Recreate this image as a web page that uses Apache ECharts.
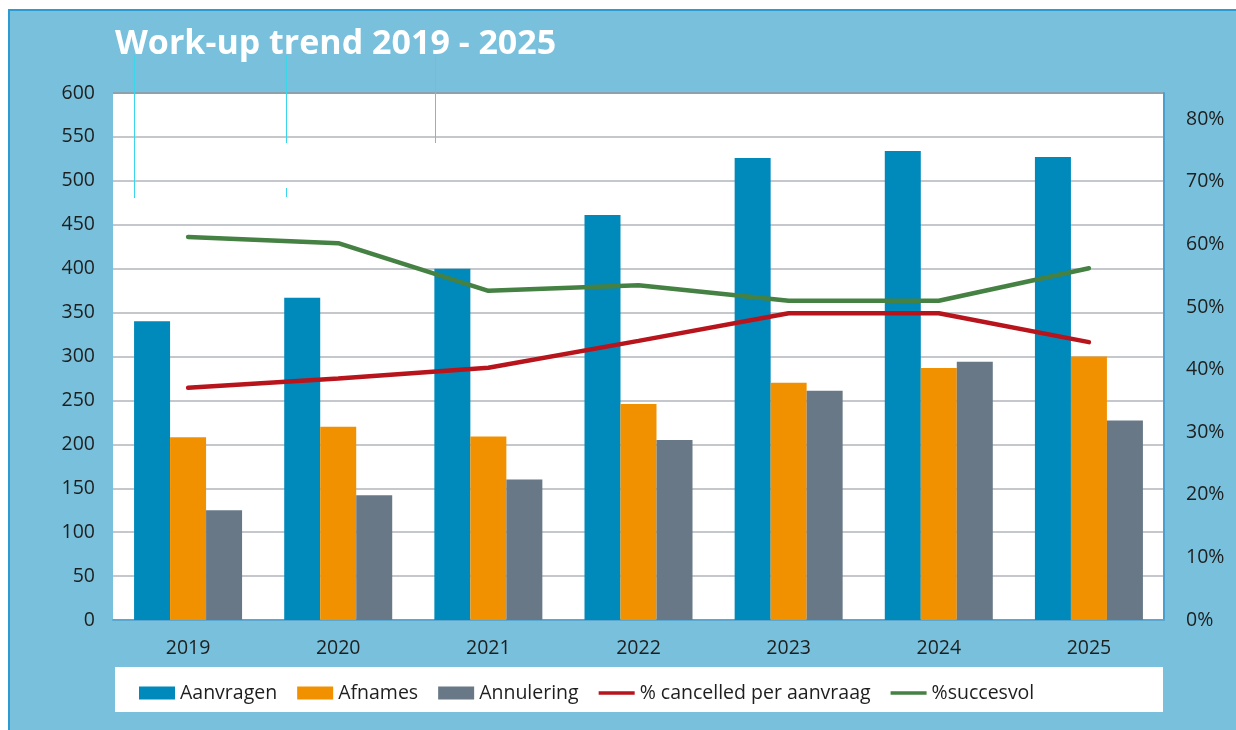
<!DOCTYPE html>
<html>
<head>
<meta charset="utf-8">
<script src="https://cdn.jsdelivr.net/npm/echarts@6/dist/echarts.min.js"></script>
<style>
  html, body { margin: 0; padding: 0; background: #fff; }
  #chart { width: 1236px; height: 730px; }
</style>
</head>
<body>
<div id="chart"></div>
<script>
// categories
const years = ['2019', '2020', '2021', '2022', '2023', '2024', '2025']
// bars (left axis)
const aanvragen = [340, 367, 400, 461, 526, 534, 527]
const afnames = [208, 220, 209, 246, 270, 287, 300]
const annulering = [125, 142, 160, 205, 261, 294, 227]
// lines (right axis, fraction)
const cancelled = [0.371, 0.386, 0.403, 0.446, 0.49, 0.49, 0.444]
const succesvol = [0.612, 0.602, 0.526, 0.535, 0.51, 0.51, 0.562]

const font = 'Open Sans'
const labelColor = '#1e1e1e'
const lineIcon = 'path://M0,0 L40,0 L40,4 L0,4 Z'

const myChart = echarts.init(document.getElementById('chart'))

// grijze gridlijnen, bovenste iets donkerder
let gridColors = []
for (let i = 0; i < 12; i++) gridColors.push('#c4c8cc')
gridColors.push('#8ea2ad')

const option = {
  backgroundColor: '#ffffff',
  title: {
    text: 'Work-up trend 2019 - 2025',
    left: 110,
    top: 22,
    textStyle: { color: '#ffffff', fontSize: 34, fontWeight: 'bold', fontFamily: font }
  },
  graphic: [
    // blauwe achtergrond
    {
      type: 'rect',
      z: -10,
      shape: { x: 9, y: 10, width: 1240, height: 730 },
      style: { fill: '#78c0db', stroke: '#2b9bd1', lineWidth: 2 }
    },
    // witte legenda-balk
    {
      type: 'rect',
      z: -5,
      shape: { x: 115, y: 667, width: 1048, height: 45 },
      style: { fill: '#ffffff' }
    },
    // dunne cyaan streepjes (artefacten in origineel)
    { type: 'line', z: 50, shape: { x1: 134.5, y1: 55, x2: 134.5, y2: 198 }, style: { stroke: '#3cd6ea', lineWidth: 1 } },
    { type: 'line', z: 50, shape: { x1: 286.5, y1: 55, x2: 286.5, y2: 143 }, style: { stroke: '#3cd6ea', lineWidth: 1 } },
    { type: 'line', z: 50, shape: { x1: 286.5, y1: 188, x2: 286.5, y2: 197 }, style: { stroke: '#3cd6ea', lineWidth: 1 } },
    { type: 'line', z: 50, shape: { x1: 435.5, y1: 55, x2: 435.5, y2: 143 }, style: { stroke: '#3cd6ea', lineWidth: 1 } }
  ],
  legend: {
    left: 134,
    top: 678,
    itemWidth: 36,
    itemHeight: 13,
    itemGap: 20,
    textStyle: { color: labelColor, fontSize: 19.5, fontFamily: font },
    data: [
      { name: 'Aanvragen', icon: 'rect' },
      { name: 'Afnames', icon: 'rect' },
      { name: 'Annulering', icon: 'rect' },
      { name: '% cancelled per aanvraag', icon: lineIcon },
      { name: '%succesvol', icon: lineIcon }
    ]
  },
  grid: {
    left: 113,
    right: 72,
    top: 93,
    bottom: 110,
    show: true,
    backgroundColor: '#ffffff',
    borderWidth: 0
  },
  xAxis: {
    type: 'category',
    data: years,
    axisTick: { show: false },
    axisLine: { lineStyle: { color: '#5aa8cf', width: 2 } },
    axisLabel: { color: labelColor, fontSize: 19.5, fontFamily: font, margin: 18 }
  },
  yAxis: [
    {
      type: 'value',
      min: 0,
      max: 600,
      interval: 50,
      axisLine: { show: false },
      axisTick: { show: false },
      axisLabel: { color: labelColor, fontSize: 19.5, fontFamily: font, margin: 18 },
      splitLine: { lineStyle: { color: gridColors, width: 2 } }
    },
    {
      type: 'value',
      min: 0,
      max: 0.842,
      interval: 0.1,
      position: 'right',
      axisLine: { show: true, lineStyle: { color: '#4b9fcf', width: 2 } },
      axisTick: { show: false },
      splitLine: { show: false },
      axisLabel: {
        color: labelColor,
        fontSize: 19.5,
        fontFamily: font,
        margin: 22,
        showMaxLabel: false,
        formatter: (v) => Math.round(v * 100) + '%'
      }
    }
  ],
  series: [
    {
      name: 'Aanvragen',
      type: 'bar',
      barWidth: 36,
      barGap: '0%',
      itemStyle: { color: '#0089bb' },
      data: aanvragen
    },
    {
      name: 'Afnames',
      type: 'bar',
      barWidth: 36,
      barGap: '0%',
      itemStyle: { color: '#f29100' },
      data: afnames
    },
    {
      name: 'Annulering',
      type: 'bar',
      barWidth: 36,
      barGap: '0%',
      itemStyle: { color: '#687886' },
      data: annulering
    },
    {
      name: '% cancelled per aanvraag',
      type: 'line',
      yAxisIndex: 1,
      symbol: 'none',
      itemStyle: { color: '#b7141c' },
      lineStyle: { color: '#b7141c', width: 4.5, cap: 'round' },
      data: cancelled
    },
    {
      name: '%succesvol',
      type: 'line',
      yAxisIndex: 1,
      symbol: 'none',
      itemStyle: { color: '#458143' },
      lineStyle: { color: '#458143', width: 4.5, cap: 'round' },
      data: succesvol
    }
  ]
}

myChart.setOption(option)
</script>
</body>
</html>
